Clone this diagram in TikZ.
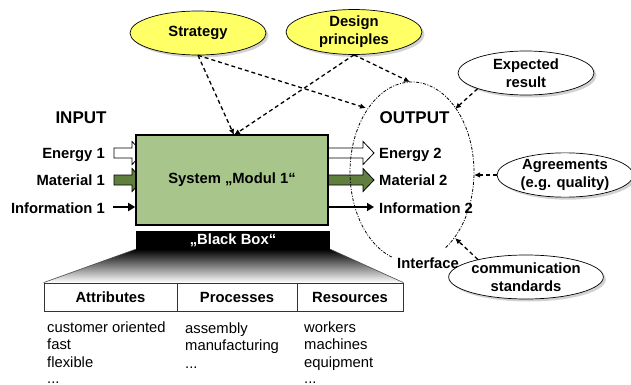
\documentclass[tikz,border=0pt]{standalone}
\usepackage{fontspec}
\setmainfont{Liberation Sans}
\usetikzlibrary{shapes.geometric,shadows,arrows.meta,calc,backgrounds}

\definecolor{ovalyellow}{RGB}{255,255,102}
\definecolor{boxgreen}{RGB}{168,198,140}
\definecolor{flowgreen}{RGB}{96,127,62}

% broad horizontal flow arrow from #1 to tip #2, filled with #3
\newcommand\flowarrow[3]{%
  \filldraw[fill=#3, draw=black, line width=0.8pt, line join=miter]
    ($(#1)+(0,-5)$) -- ($(#2)+(-11,-5)$) -- ($(#2)+(-11,-11.5)$) -- (#2)
    -- ($(#2)+(-11,11.5)$) -- ($(#2)+(-11,5)$) -- ($(#1)+(0,5)$) -- cycle;}

\begin{document}
\begin{tikzpicture}[x=1pt,y=-1pt,
  font=\fontsize{14.8}{17.5}\selectfont,
  oval/.style={ellipse, draw=black, line width=0.7pt, minimum width=136pt,
    minimum height=44pt, inner sep=0pt, align=center,
    font=\fontsize{14.8}{18}\selectfont\bfseries,
    drop shadow={shadow xshift=2.5pt, shadow yshift=-2.5pt, fill=black!35}},
  infl/.style={draw=black, line width=1.3pt, dash pattern=on 4pt off 3pt,
    -{Latex[length=6pt,width=5.5pt]}},
  lbl/.style={font=\fontsize{14.8}{17.5}\selectfont\bfseries, inner sep=0pt},
  head/.style={font=\fontsize{17}{20}\selectfont\bfseries, inner sep=0pt},
  item/.style={anchor=base west, inner sep=0pt},
  cell/.style={draw=black!80, line width=0.8pt, minimum height=28pt,
    inner sep=0pt, font=\fontsize{14.8}{17.5}\selectfont\bfseries},
  info/.style={line width=2pt, -{Triangle[length=7pt,width=8pt]}}
]
\useasboundingbox (0,0) rectangle (631,385);

% ---- flows entering and leaving the system ----
\coordinate (e1s) at (114,153); \coordinate (e1t) at (143,153);
\coordinate (m1s) at (114,180); \coordinate (m1t) at (143,180);
\coordinate (e2s) at (326,153); \coordinate (e2t) at (374,153);
\coordinate (m2s) at (326,180); \coordinate (m2t) at (374,180);
\flowarrow{e1s}{e1t}{white}
\flowarrow{m1s}{m1t}{flowgreen}
\flowarrow{e2s}{e2t}{white}
\flowarrow{m2s}{m2t}{flowgreen}

% ---- the system ----
\node[draw, line width=1.6pt, fill=boxgreen, minimum width=192pt,
  minimum height=90pt, lbl] (sys) at (232,180) {System „Modul 1“};
\node[fill=black, text=white, minimum width=194pt, minimum height=18pt,
  lbl] (bb) at (233,240) {„Black Box“};

\coordinate (i1s) at (113,207);
\coordinate (i2t) at (374,207);
\draw[info] (i1s) -- (sys.west |- i1s);
\draw[info] (sys.east |- i2t) -- (i2t);

% ---- flow labels ----
\node[head, anchor=base] (inp) at (81,123) {INPUT};
\node[head, anchor=base] (outp) at (414.5,123) {OUTPUT};
\node[lbl, anchor=base east] (e1) at (105,158) {Energy 1};
\node[lbl, anchor=base east] (m1) at (105,185.5) {Material 1};
\node[lbl, anchor=base east] (i1) at (105,213) {Information 1};
\node[lbl, anchor=base west] (e2) at (379,158.5) {Energy 2};
\node[lbl, anchor=base west] (m2) at (379,185.5) {Material 2};
\node[lbl, anchor=base west] (i2) at (379,213) {Information 2};

% ---- table below the black box ----
\node[cell, minimum width=133pt] (attr) at (110.5,297) {Attributes};
\node[cell, minimum width=120pt] (proc) at (237,297) {Processes};
\node[cell, minimum width=106pt] (res) at (350,297) {Resources};
\begin{scope}[on background layer]
  \shade[top color=black, middle color=black!40, bottom color=white]
    (bb.south west) -- (bb.south east) -- (res.north east) -- (attr.north west) -- cycle;
\end{scope}
\draw[black!70, line width=0.6pt] (bb.south west) -- (attr.north west)
  (bb.south east) -- (res.north east);

\node[item] (a1) at (47,332) {customer oriented};
\node[item] (a2) at (47,349.5) {fast};
\node[item] (a3) at (47,367) {flexible};
\node[item] (a4) at (47,383) {...};
\node[item] (p1) at (185,333) {assembly};
\node[item] (p2) at (185,350.5) {manufacturing};
\node[item] (p3) at (185,368) {...};
\node[item] (r1) at (304,332) {workers};
\node[item] (r2) at (304,349.5) {machines};
\node[item] (r3) at (304,367) {equipment};
\node[item] (r4) at (304,383) {...};

% ---- interface boundary ----
\draw[line width=0.8pt, dash pattern=on 3pt off 1.5pt on 1pt off 1.5pt]
  plot[domain=109:418, samples=120, smooth] ({412+62*cos(\x)},{172+90*sin(\x)});
\node[lbl, anchor=base west] (intf) at (397,268) {Interface};
\coordinate (sysIn) at (234,135);
\coordinate (ifL) at (366,108);
\coordinate (ifT) at (410,82);
\coordinate (ifER) at (455,109);
\coordinate (ifAg) at (474,175);
\coordinate (ifCS) at (455,238);

% ---- influences ----
\node[oval, fill=ovalyellow] (strat) at (198,33) {Strategy};
\node[oval, fill=ovalyellow] (des) at (354,32) {Design\\principles};
\node[oval, fill=white] (exp) at (526,73) {Expected\\result};
\node[oval, fill=white] (agr) at (565,175) {Agreements\\(e.g. quality)};
\node[oval, fill=white] (cs) at (526,277) {communication\\standards};

\draw[infl] (strat.south) -- (sysIn);
\draw[infl] (strat.south) -- (ifL);
\draw[infl] (des.south) -- (sysIn);
\draw[infl] (des.south) -- (ifT);
\draw[infl] (exp.198) -- (ifER);
\draw[infl] (agr.west) -- (ifAg);
\draw[infl] (cs.160) -- (ifCS);
\end{tikzpicture}
\end{document}
